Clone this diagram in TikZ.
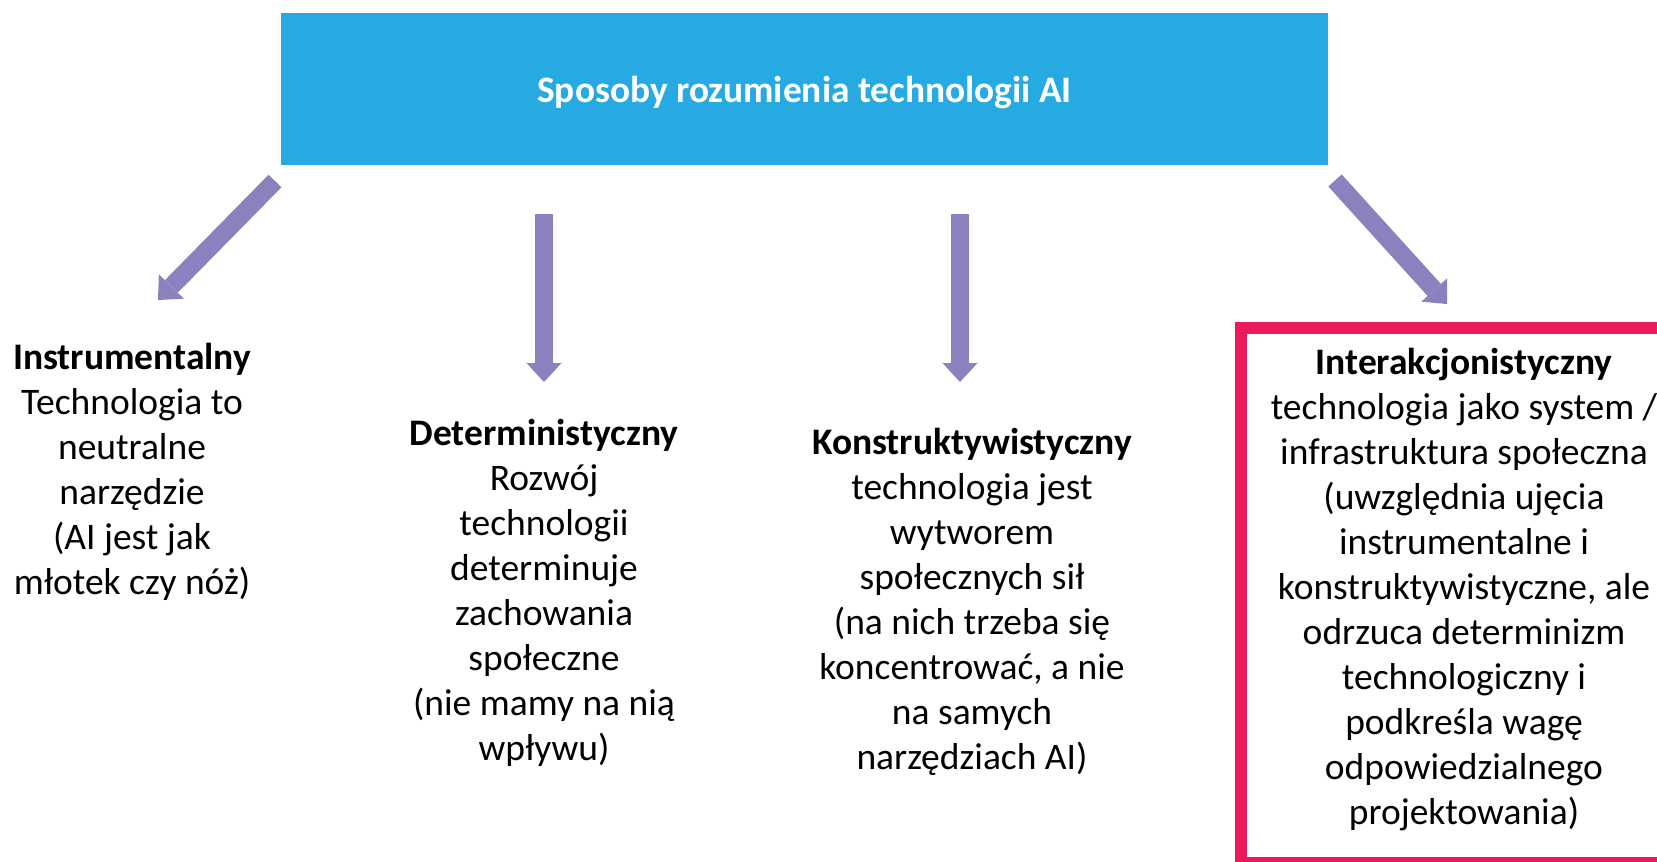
\documentclass[tikz,border=0pt]{standalone}
\usepackage{fontspec}
\setmainfont{Carlito}
\usetikzlibrary{arrows.meta}

\definecolor{titleblue}{RGB}{39,170,225}
\definecolor{arrowviolet}{RGB}{137,130,190}
\definecolor{framered}{RGB}{237,25,93}

\begin{document}
\begin{tikzpicture}[x=0.5pt,y=-0.5pt]
	\tikzstyle{heading} = [fill=titleblue,text=white,font=\fontsize{18.7}{22}\selectfont\bfseries,minimum width=523.5pt,minimum height=76pt,inner sep=0,text depth=0pt]
	\tikzstyle{view} = [align=center,font=\fontsize{18.75}{22.5}\selectfont,inner sep=0]
	\tikzstyle{bigarrow} = [arrowviolet,line width=9pt,-{Triangle[width=17.5pt,length=9.5pt,line width=0pt]}]
	\useasboundingbox (0,0) rectangle (1657,861);
	% title
	\node[heading] (title) at (804.5,89) {Sposoby rozumienia technologii AI};
	% four views
	\node[view] (instr) at (132,472) {\textbf{Instrumentalny}\\Technologia to\\neutralne\\narzędzie\\(AI jest jak\\młotek czy nóż)};
	\node[view] (determ) at (544,593) {\textbf{Deterministyczny}\\Rozwój\\technologii\\determinuje\\zachowania\\społeczne\\(nie mamy na nią\\wpływu)};
	\node[view] (konstr) at (972,602) {\textbf{Konstruktywistyczny}\\technologia jest\\wytworem\\społecznych sił\\(na nich trzeba się\\koncentrować, a nie\\na samych\\narzędziach AI)};
	\node[view] (inter) at (1464,589.5) {\textbf{Interakcjonistyczny}\\technologia jako system /\\infrastruktura społeczna\\(uwzględnia ujęcia\\instrumentalne i\\konstruktywistyczne, ale\\odrzuca determinizm\\technologiczny i\\podkreśla wagę\\odpowiedzialnego\\projektowania)};
	% frame round the last view
	\begin{scope}
		\clip (0,0) rectangle (1657,861);
		\draw[framered,line width=6pt] (1241,327.5) rectangle (1690,863);
	\end{scope}
	% arrow ends
	\coordinate (a1s) at (275,181);
	\coordinate (a1e) at (158,300);
	\coordinate (a2s) at (544,214);
	\coordinate (a2e) at (544,382);
	\coordinate (a3s) at (960,214);
	\coordinate (a3e) at (960,382);
	\coordinate (a4s) at (1335,180.5);
	\coordinate (a4e) at (1447,304);
	% arrows
	\foreach \i in {1,...,4}
		\draw[bigarrow] (a\i s) -- (a\i e);
\end{tikzpicture}
\end{document}
